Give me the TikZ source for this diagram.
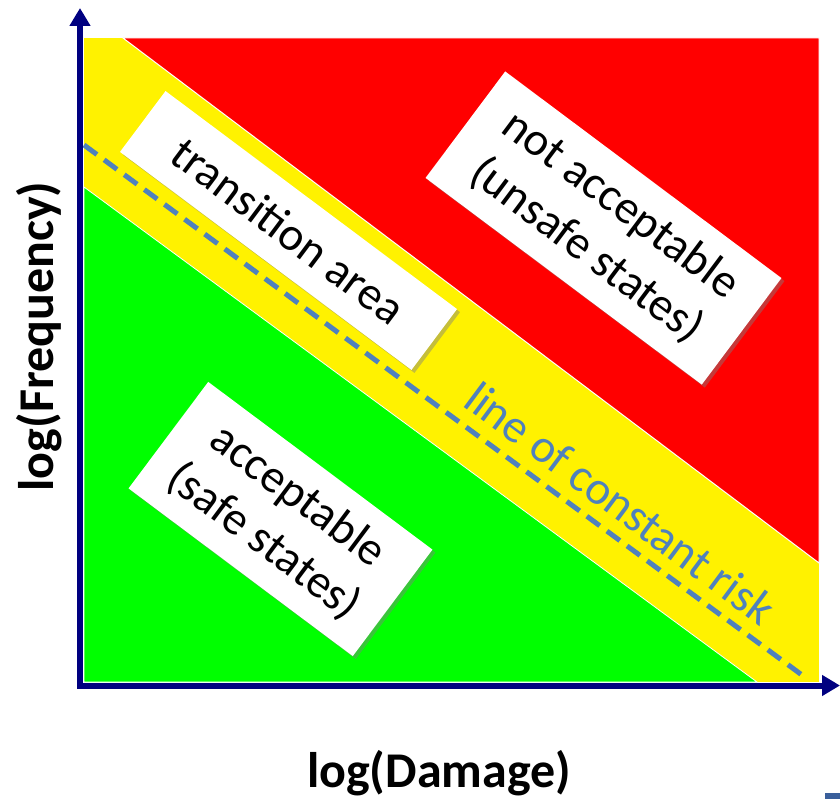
\documentclass[tikz,border=0pt]{standalone}
\usepackage{fontspec}
\setmainfont{Carlito}
\usepackage{tikz}
\usetikzlibrary{arrows.meta,shadows}
\definecolor{axisblue}{HTML}{000080}
\definecolor{riskblue}{HTML}{4F81BD}
\definecolor{tabblue}{HTML}{3A5F9B}

\begin{document}
\begin{tikzpicture}[x=1pt,y=-1pt,
    tag/.style={fill=white, rotate=-36.8, inner sep=0pt, align=center,
        font=\fontsize{47}{57}\selectfont,
        drop shadow={shadow xshift=3pt, shadow yshift=-3pt, opacity=0.45}},
    axis/.style={line width=6pt, draw=axisblue, -{Triangle[width=20pt,length=18pt]}},
    riskline/.style={draw=riskblue, line width=5pt, dash pattern=on 16pt off 9pt},
    axislabel/.style={font=\fontsize{50}{60}\selectfont\bfseries}]
    \useasboundingbox (0,0) rectangle (840,799);

    \coordinate (o) at (80,685.5);
    \coordinate (ytop) at (80,8);
    \coordinate (ybot) at (80,688.5);
    \coordinate (xleft) at (77,685.5);
    \coordinate (xend) at (840,685.5);
    \coordinate (rs) at (84,145);
    \coordinate (re) at (806,678);

    \fill[yellow] (84,38) rectangle (819,682);
    \filldraw[fill=red, draw=white, line width=1pt] (123,38) -- (819,38) -- (819,563) -- cycle;
    \filldraw[fill=green, draw=white, line width=0.8pt] (84,187) -- (757,682) -- (84,682) -- cycle;

    \draw[riskline] (rs) -- (re);
    \node[rotate=-36.6, anchor=base, text=riskblue, font=\fontsize{47}{57}\selectfont]
        (risk) at (611,516) {line of constant risk};

    \node[tag, minimum width=364pt, minimum height=76pt] (trans) at (288.5,230.5) {transition area};
    \node[tag, minimum width=345pt, minimum height=133pt] (unsafe) at (603.5,228) {not acceptable\\(unsafe states)};
    \node[tag, minimum width=280pt, minimum height=133pt] (safe) at (280.5,519) {acceptable\\(safe states)};

    \draw[axis] (ybot) -- (ytop);
    \draw[axis] (xleft) -- (xend);

    \node[axislabel, anchor=base] (xlab) at (439,787) {log(Damage)};
    \node[axislabel, anchor=base, rotate=90] (ylab) at (53,336.5) {log(Frequency)};

    \fill[tabblue] (825,793) rectangle (840,799);
\end{tikzpicture}
\end{document}
